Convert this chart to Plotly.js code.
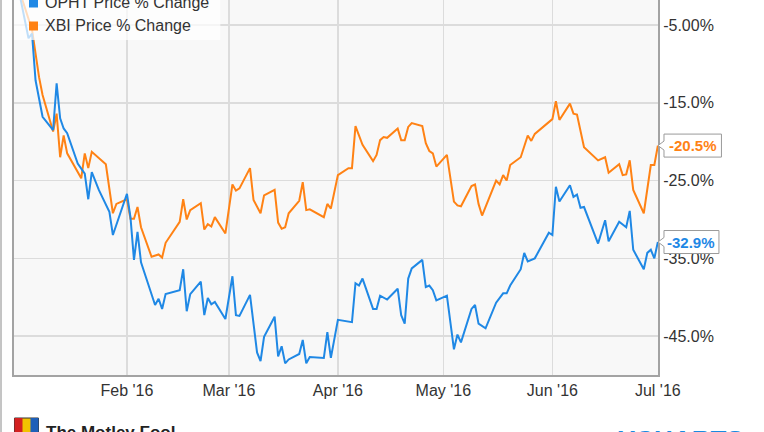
<!DOCTYPE html>
<html>
<head>
<meta charset="utf-8">
<script src="https://cdn.plot.ly/plotly-3.0.1.min.js"></script>
<style>html,body{margin:0;padding:0;background:#fff;}#chart{width:764px;height:432px;}</style>
</head>
<body>
<div id="chart"></div>
<script>
// ---- data ----
var ophtName = 'OPHT Price % Change';
var xbiName = 'XBI Price % Change';

var ophtDates = ['2016-01-01','2016-01-04','2016-01-05','2016-01-06','2016-01-08','2016-01-11','2016-01-12','2016-01-13','2016-01-14','2016-01-15','2016-01-18','2016-01-20','2016-01-21','2016-01-22','2016-01-24','2016-01-26','2016-01-27','2016-01-28','2016-02-01','2016-02-02','2016-02-03','2016-02-04','2016-02-05','2016-02-09','2016-02-10','2016-02-11','2016-02-12','2016-02-16','2016-02-17','2016-02-18','2016-02-19','2016-02-22','2016-02-23','2016-02-24','2016-02-25','2016-02-26','2016-02-29','2016-03-02','2016-03-03','2016-03-04','2016-03-07','2016-03-09','2016-03-10','2016-03-11','2016-03-14','2016-03-15','2016-03-16','2016-03-17','2016-03-18','2016-03-21','2016-03-22','2016-03-23','2016-03-24','2016-03-28','2016-03-29','2016-03-30','2016-04-01','2016-04-05','2016-04-06','2016-04-07','2016-04-08','2016-04-11','2016-04-12','2016-04-13','2016-04-15','2016-04-18','2016-04-19','2016-04-20','2016-04-21','2016-04-22','2016-04-25','2016-04-26','2016-04-27','2016-04-28','2016-04-29','2016-05-02','2016-05-03','2016-05-04','2016-05-05','2016-05-06','2016-05-09','2016-05-10','2016-05-11','2016-05-13','2016-05-16','2016-05-18','2016-05-19','2016-05-20','2016-05-23','2016-05-24','2016-05-25','2016-05-27','2016-05-31','2016-06-01','2016-06-02','2016-06-03','2016-06-06','2016-06-07','2016-06-08','2016-06-09','2016-06-10','2016-06-14','2016-06-16','2016-06-17','2016-06-20','2016-06-22','2016-06-23','2016-06-24','2016-06-27','2016-06-28','2016-06-29','2016-06-30','2016-07-01'];
var ophtValues = [0,-6.7,-6.1,-12.1,-16.8,-18.5,-12.5,-17.0,-18.3,-18.9,-22.8,-24.1,-27.4,-23.9,-26.2,-28.2,-29.0,-32.0,-26.7,-29.7,-35.2,-31.6,-35.5,-41.0,-40.2,-41.5,-39.6,-39.1,-36.4,-41.8,-39.6,-38.0,-42.3,-40.1,-40.9,-40.6,-42.8,-37.3,-42.3,-42.4,-39.7,-47.1,-48.2,-45.1,-42.5,-47.6,-46.3,-48.5,-48.0,-47.3,-45.5,-48.5,-47.7,-47.8,-44.5,-47.8,-42.9,-43.2,-38.2,-38.5,-37.6,-41.5,-41.5,-39.8,-40.3,-38.9,-42.3,-43.4,-37.6,-36.3,-35.2,-38.7,-38.5,-39.1,-40.4,-39.8,-43.0,-46.7,-44.8,-45.8,-41.5,-41.0,-43.4,-44.0,-40.7,-39.5,-39.5,-38.5,-36.4,-34.3,-35.4,-35.0,-31.7,-32.0,-25.8,-27.7,-25.6,-27.1,-26.8,-28.5,-28.4,-33.1,-30.1,-32.8,-30.3,-31.0,-28.9,-33.9,-36.4,-34.3,-33.9,-35.0,-32.9];

var xbiDates = ['2016-01-01','2016-01-05','2016-01-07','2016-01-08','2016-01-11','2016-01-12','2016-01-13','2016-01-14','2016-01-15','2016-01-19','2016-01-20','2016-01-21','2016-01-22','2016-01-26','2016-01-28','2016-01-29','2016-02-01','2016-02-02','2016-02-03','2016-02-04','2016-02-05','2016-02-08','2016-02-10','2016-02-11','2016-02-12','2016-02-16','2016-02-17','2016-02-18','2016-02-19','2016-02-22','2016-02-23','2016-02-24','2016-02-25','2016-02-26','2016-02-29','2016-03-02','2016-03-03','2016-03-04','2016-03-07','2016-03-08','2016-03-10','2016-03-11','2016-03-14','2016-03-15','2016-03-16','2016-03-17','2016-03-18','2016-03-21','2016-03-22','2016-03-23','2016-03-24','2016-03-28','2016-03-29','2016-03-30','2016-04-01','2016-04-04','2016-04-05','2016-04-06','2016-04-08','2016-04-11','2016-04-12','2016-04-13','2016-04-14','2016-04-15','2016-04-18','2016-04-19','2016-04-20','2016-04-21','2016-04-22','2016-04-25','2016-04-26','2016-04-27','2016-04-28','2016-04-29','2016-05-02','2016-05-03','2016-05-04','2016-05-05','2016-05-06','2016-05-09','2016-05-10','2016-05-11','2016-05-12','2016-05-16','2016-05-17','2016-05-18','2016-05-19','2016-05-20','2016-05-23','2016-05-25','2016-05-26','2016-05-27','2016-05-31','2016-06-01','2016-06-02','2016-06-03','2016-06-06','2016-06-07','2016-06-08','2016-06-10','2016-06-14','2016-06-16','2016-06-17','2016-06-20','2016-06-21','2016-06-22','2016-06-23','2016-06-24','2016-06-27','2016-06-29','2016-06-30','2016-07-01'];
var xbiValues = [0,-5.6,-11.7,-14.0,-18.7,-16.4,-22.0,-19.2,-21.5,-24.7,-21.5,-23.4,-21.3,-22.9,-29.2,-28.0,-27.4,-29.9,-29.9,-28.4,-31.0,-34.8,-34.5,-34.9,-33.0,-30.3,-27.4,-30.0,-28.8,-27.9,-31.3,-30.6,-30.9,-29.7,-31.8,-25.5,-26.3,-26.0,-23.4,-27.5,-29.2,-26.9,-26.2,-30.4,-31.2,-31.0,-29.2,-27.6,-25.2,-28.8,-28.7,-29.7,-28.0,-28.6,-24.3,-23.4,-23.4,-18.0,-20.4,-22.5,-21.7,-19.8,-19.4,-19.5,-18.3,-19.8,-19.8,-18.1,-17.6,-18.0,-20.2,-21.2,-21.5,-23.2,-21.7,-25.0,-27.7,-28.2,-28.3,-25.7,-25.5,-28.0,-29.5,-25.0,-25.5,-24.3,-25.0,-23.0,-22.0,-19.2,-19.9,-19.0,-17.5,-17.1,-14.8,-17.2,-15.1,-16.4,-16.5,-20.7,-22.4,-22.0,-24.0,-22.9,-24.3,-24.2,-22.4,-26.2,-29.2,-23.0,-23.0,-20.5];

var xTickVals = ['2016-02-01','2016-03-01','2016-04-01','2016-05-01','2016-06-01','2016-07-01'];
var xTickText = ["Feb '16","Mar '16","Apr '16","May '16","Jun '16","Jul '16"];
var yTickVals = [-5,-15,-25,-35,-45];
var yTickText = ['-5.00%','-15.0%','-25.0%','-35.0%','-45.0%'];

// ---- styling / layout ----
var W = 764, H = 432;
var M = {l: 13.5, r: 106, t: 0, b: 57};
var plotW = W - M.l - M.r, plotH = H - M.t - M.b;
var yRange = [-50, -1.78];
var blue = '#1f88e5', orange = '#ff8214';
var FONT = 'Liberation Sans, Arial, sans-serif';

function px2paperX(px){ return (px - M.l) / plotW; }
function px2paperY(py){ return (H - M.b - py) / plotH; }
function pxToDataDY(p){ return p * (yRange[1] - yRange[0]) / plotH; }

function callout(value, color, boxRightPx){
  var x0 = 1, x1 = px2paperX(664), x2 = px2paperX(boxRightPx);
  var hw = pxToDataDY(4.5), hh = pxToDataDY(11.5);
  var path = 'M ' + x0 + ',' + value +
    ' L ' + x1 + ',' + (value + hw) + ' L ' + x1 + ',' + (value + hh) +
    ' L ' + x2 + ',' + (value + hh) + ' L ' + x2 + ',' + (value - hh) +
    ' L ' + x1 + ',' + (value - hh) + ' L ' + x1 + ',' + (value - hw) + ' Z';
  return {
    shape: {type: 'path', xref: 'paper', yref: 'y', path: path, fillcolor: '#ffffff',
            line: {color: '#9a9a9a', width: 1}, layer: 'above'},
    ann: {xref: 'paper', yref: 'y', x: (x1 + x2) / 2, y: value, xanchor: 'center', yanchor: 'middle',
          text: '<b>' + value.toFixed(1) + '%</b>', showarrow: false,
          font: {family: FONT, size: 15, color: color}}
  };
}

var lastX = xbiValues[xbiValues.length - 1];
var lastO = ophtValues[ophtValues.length - 1];
var cX = callout(lastX, orange, 721.5);
var cO = callout(lastO, blue, 719);

var traces = [
  {x: xbiDates, y: xbiValues, type: 'scatter', mode: 'lines', name: xbiName,
   line: {color: orange, width: 2}, hoverinfo: 'skip'},
  {x: ophtDates, y: ophtValues, type: 'scatter', mode: 'lines', name: ophtName,
   line: {color: blue, width: 2}, hoverinfo: 'skip'}
];

var shapes = [
  // legend background (semi transparent)
  {type: 'rect', xref: 'paper', yref: 'paper', x0: 0, x1: px2paperX(220), y0: px2paperY(40), y1: px2paperY(-10),
   fillcolor: 'rgba(255,255,255,0.72)', line: {width: 0}, layer: 'above'},
  // legend swatches
  {type: 'rect', xref: 'paper', yref: 'paper', x0: px2paperX(28.5), x1: px2paperX(37.5), y0: px2paperY(7.5), y1: px2paperY(-1.5),
   fillcolor: blue, line: {width: 0}, layer: 'above'},
  {type: 'rect', xref: 'paper', yref: 'paper', x0: px2paperX(28.5), x1: px2paperX(37.5), y0: px2paperY(30.5), y1: px2paperY(21.5),
   fillcolor: orange, line: {width: 0}, layer: 'above'},
  cX.shape, cO.shape,
  // outer frame line on the left
  {type: 'line', xref: 'paper', yref: 'paper', x0: px2paperX(0.5), x1: px2paperX(0.5), y0: px2paperY(0), y1: px2paperY(432),
   line: {color: '#8a8a8a', width: 1}},
  // motley fool logo bits
  {type: 'rect', xref: 'paper', yref: 'paper', x0: px2paperX(14), x1: px2paperX(38), y0: px2paperY(434), y1: px2paperY(418),
   fillcolor: '#f2c200', line: {color: '#333', width: 1}},
  {type: 'rect', xref: 'paper', yref: 'paper', x0: px2paperX(14), x1: px2paperX(22), y0: px2paperY(434), y1: px2paperY(418),
   fillcolor: '#d32020', line: {width: 0}},
  {type: 'rect', xref: 'paper', yref: 'paper', x0: px2paperX(30), x1: px2paperX(38), y0: px2paperY(434), y1: px2paperY(418),
   fillcolor: '#1d5fb8', line: {width: 0}}
];

var annotations = [
  {xref: 'paper', yref: 'paper', x: px2paperX(43), y: px2paperY(2.5), xanchor: 'left', yanchor: 'middle',
   text: ophtName, showarrow: false, font: {family: FONT, size: 16, color: '#333'}},
  {xref: 'paper', yref: 'paper', x: px2paperX(43), y: px2paperY(25.5), xanchor: 'left', yanchor: 'middle',
   text: xbiName, showarrow: false, font: {family: FONT, size: 16, color: '#333'}},
  cX.ann, cO.ann,
  {xref: 'paper', yref: 'paper', x: px2paperX(44), y: px2paperY(421), xanchor: 'left', yanchor: 'top',
   text: '<b>The Motley Fool</b>', showarrow: false, font: {family: FONT, size: 17, color: '#222'}},
  {xref: 'paper', yref: 'paper', x: px2paperX(616), y: px2paperY(423), xanchor: 'left', yanchor: 'top',
   text: '<b>YCHARTS</b>', showarrow: false, font: {family: FONT, size: 26, color: '#1a8ae0'}}
];

var layout = {
  width: W, height: H,
  margin: {l: M.l, r: M.r, t: M.t, b: M.b, pad: 0},
  paper_bgcolor: '#ffffff', plot_bgcolor: '#f8f8f8',
  showlegend: false,
  font: {family: FONT, size: 16, color: '#333'},
  xaxis: {type: 'date', range: ['2015-12-30 21:00', '2016-07-01 01:00'],
          tickmode: 'array', tickvals: xTickVals, ticktext: xTickText,
          ticks: '', showgrid: true, gridcolor: '#dcdcdc', gridwidth: 1.5,
          showline: true, linecolor: '#a3a3a3', linewidth: 2, mirror: false, zeroline: false,
          tickfont: {family: FONT, size: 16, color: '#333'}, fixedrange: true},
  yaxis: {side: 'right', range: yRange, tickmode: 'array', tickvals: yTickVals, ticktext: yTickText,
          ticks: '', showgrid: true, gridcolor: '#dcdcdc', gridwidth: 1.5,
          showline: true, linecolor: '#a3a3a3', linewidth: 2, mirror: true, zeroline: false,
          tickfont: {family: FONT, size: 16, color: '#333'}, fixedrange: true},
  shapes: shapes,
  annotations: annotations
};

Plotly.newPlot('chart', traces, layout, {displayModeBar: false, staticPlot: true});
</script>
</body>
</html>
